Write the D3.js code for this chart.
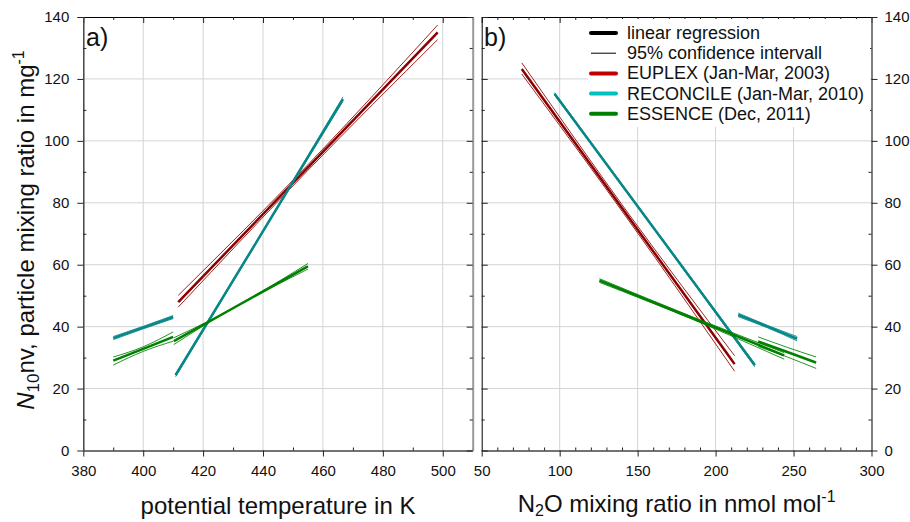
<!DOCTYPE html>
<html>
<head>
<meta charset="utf-8">
<script src="https://cdn.jsdelivr.net/npm/d3@7"></script>
<style>
  body { margin: 0; background: #fff; }
  svg { display: block; font-family: "Liberation Sans", Arial, sans-serif; }
</style>
</head>
<body>
<svg id="chart" width="910" height="522"></svg>
<script>
// ---------- data ----------
const seriesNames = ["EUPLEX (Jan-Mar, 2003)", "RECONCILE (Jan-Mar, 2010)", "ESSENCE (Dec, 2011)"];
const legendKeys = ["linear regression", "95% confidence intervall"];

const thetaTicks = [380, 400, 420, 440, 460, 480, 500];
const thetaMinor = [390, 410, 430, 450, 470, 490, 510];
const n2oTicks = [50, 100, 150, 200, 250, 300];
const n2oMinor = [60, 70, 80, 90, 110, 120, 130, 140, 160, 170, 180, 190, 210, 220, 230, 240, 260, 270, 280, 290];
const ratioTicks = [0, 20, 40, 60, 80, 100, 120, 140];
const ratioMinor = [10, 30, 50, 70, 90, 110, 130];

// regression fits (fit) with 95% confidence bounds (hi, lo), panel a: vs potential temperature (K)
const aEuplex     = { x: [411.7, 455, 498.3], fit: [47.9, 91.4, 135.0], hi: [50.1, 92.3, 137.4], lo: [46.3, 90.5, 132.7] };
const aReconcile1 = { x: [390, 400, 410],     fit: [36.3, 39.7, 43.1],  hi: [36.8, 40.1, 43.6],  lo: [35.8, 39.3, 42.6] };
const aReconcile2 = { x: [410.8, 438.8, 466.7], fit: [24.3, 68.9, 113.5], hi: [24.8, 69.2, 114.2], lo: [23.8, 68.6, 112.8] };
const aEssence1   = { x: [390, 400, 410],     fit: [29.0, 32.8, 36.7],  hi: [30.2, 33.5, 38.3],  lo: [27.6, 32.0, 35.3] };
const aEssence2   = { x: [410.2, 421, 455],   fit: [35.3, 41.1, 59.5],  hi: [36.4, 41.4, 60.4],  lo: [34.2, 40.8, 58.6] };

// panel b: vs N2O mixing ratio (nmol/mol)
const bEuplex     = { x: [75.7, 144, 212.2],  fit: [123.2, 75.5, 27.9], hi: [125.2, 76.6, 30.6], lo: [121.6, 74.5, 25.6] };
const bReconcile1 = { x: [96.7, 161, 225.2],  fit: [115.2, 71.4, 27.5], hi: [115.6, 71.7, 28.0], lo: [114.8, 71.1, 27.0] };
const bReconcile2 = { x: [214.5, 233.4, 252.3], fit: [43.8, 40.0, 36.1], hi: [44.4, 40.4, 36.8], lo: [43.2, 39.6, 35.4] };
const bEssence1   = { x: [125.5, 185, 244],   fit: [54.9, 42.8, 30.7],  hi: [55.5, 43.2, 31.6],  lo: [54.3, 42.4, 29.5] };
const bEssence2   = { x: [227.3, 246, 264.5], fit: [35.2, 31.8, 28.4],  hi: [36.7, 33.3, 30.2],  lo: [33.6, 30.2, 26.5] };

const panelASegments = [[0, aEuplex], [1, aReconcile1], [1, aReconcile2], [2, aEssence1], [2, aEssence2]];
const panelBSegments = [[0, bEuplex], [1, bReconcile1], [1, bReconcile2], [2, bEssence1], [2, bEssence2]];

// ---------- styling ----------
const lineColors = ["#8b0000", "#078787", "#008000"];
const legendColors = ["#c00000", "#00c0c0", "#008000"];
const gridColor = "#d4d4d4";

const svg = d3.select("#chart");

const y = d3.scaleLinear().domain([0, 140]).range([450.5, 17]);
const xA = d3.scaleLinear().domain([380, 510]).range([83.3, 472.7]);
const xB = d3.scaleLinear().domain([50, 300]).range([481.7, 871.5]);

// ---------- grid ----------
function grid(xs, xVals, yVals) {
  const g = svg.append("g");
  g.selectAll("line.v").data(xVals).join("line")
    .attr("x1", d => xs(d)).attr("x2", d => xs(d))
    .attr("y1", y(0)).attr("y2", y(140))
    .attr("stroke", gridColor).attr("stroke-width", 1);
  g.selectAll("line.h").data(yVals).join("line")
    .attr("x1", xs.range()[0]).attr("x2", xs.range()[1])
    .attr("y1", d => y(d)).attr("y2", d => y(d))
    .attr("stroke", gridColor).attr("stroke-width", 1);
}
grid(xA, thetaTicks.slice(1), ratioTicks.slice(1, -1));
grid(xB, n2oTicks.slice(1, -1), ratioTicks.slice(1, -1));

// ---------- regression lines ----------
const lineGen = xs => d3.line()
  .x(d => xs(d[0])).y(d => y(d[1]))
  .curve(d3.curveMonotoneX);

function drawSegments(xs, segments) {
  const g = svg.append("g");
  segments.forEach(([s, seg]) => {
    const gen = lineGen(xs);
    ["hi", "lo"].forEach(k => {
      g.append("path")
        .attr("d", gen(seg.x.map((v, i) => [v, seg[k][i]])))
        .attr("fill", "none")
        .attr("stroke", lineColors[s])
        .attr("stroke-width", 1)
        .attr("stroke-opacity", 0.85);
    });
    g.append("path")
      .attr("d", gen(seg.x.map((v, i) => [v, seg.fit[i]])))
      .attr("fill", "none")
      .attr("stroke", lineColors[s])
      .attr("stroke-width", 2.5);
  });
}
drawSegments(xA, panelASegments);
drawSegments(xB, panelBSegments);

// ---------- axes ----------
function addAxis(transform, make, scale, majorVals, minorVals, opts) {
  const g = svg.append("g").attr("transform", transform);
  g.call(make(scale).tickValues(majorVals).tickSizeOuter(0)
    .tickSizeInner(opts.out ? 6 : -6).tickPadding(opts.pad || 3)
    .tickFormat(opts.labels ? d3.format("d") : () => ""));
  g.attr("font-family", null).attr("font-size", 15);
  g.select(".domain").attr("stroke", opts.color).attr("stroke-width", opts.width);
  g.selectAll(".tick line").attr("stroke", "#222");
  g.selectAll(".tick text").attr("fill", "#111");
  const gm = svg.append("g").attr("transform", transform);
  gm.call(make(scale).tickValues(minorVals).tickSizeOuter(0).tickSizeInner(-3).tickFormat(() => ""));
  gm.select(".domain").remove();
  gm.selectAll(".tick line").attr("stroke", "#222");
  return g;
}

// panel a
addAxis(`translate(0,${y(0)})`, d3.axisBottom, xA, thetaTicks, thetaMinor, { out: true, labels: true, pad: 9, color: "#444", width: 1.5 });
addAxis(`translate(0,${y(140)})`, d3.axisTop, xA, thetaTicks, thetaMinor, { out: false, color: "#000", width: 1 });
addAxis(`translate(${xA(380)},0)`, d3.axisLeft, y, ratioTicks, ratioMinor, { out: true, labels: true, pad: 8, color: "#444", width: 1.5 });
addAxis(`translate(${xA(510)},0)`, d3.axisRight, y, ratioTicks, ratioMinor, { out: false, color: "#999", width: 2 });

// panel b
addAxis(`translate(0,${y(0)})`, d3.axisBottom, xB, n2oTicks, n2oMinor, { out: true, labels: true, pad: 9, color: "#444", width: 1.5 });
addAxis(`translate(0,${y(140)})`, d3.axisTop, xB, n2oTicks, n2oMinor, { out: false, color: "#000", width: 1 });
addAxis(`translate(${xB(50)},0)`, d3.axisLeft, y, ratioTicks, ratioMinor, { out: false, color: "#000", width: 1 });
addAxis(`translate(${xB(300)},0)`, d3.axisRight, y, ratioTicks, ratioMinor, { out: true, labels: true, pad: 7, color: "#555", width: 1.5 });

// ---------- panel labels ----------
svg.append("text").attr("x", 86).attr("y", 46).attr("font-size", 25).attr("fill", "#111").text("a)");
svg.append("text").attr("x", 484).attr("y", 46).attr("font-size", 25).attr("fill", "#111").text("b)");

// ---------- axis titles ----------
svg.append("text")
  .attr("x", (xA.range()[0] + xA.range()[1]) / 2).attr("y", 514)
  .attr("text-anchor", "middle").attr("font-size", 24).attr("fill", "#111")
  .text("potential temperature in K");

const xtB = svg.append("text")
  .attr("x", (xB.range()[0] + xB.range()[1]) / 2).attr("y", 512)
  .attr("text-anchor", "middle").attr("font-size", 24).attr("fill", "#111");
xtB.append("tspan").text("N");
xtB.append("tspan").attr("font-size", 16).attr("dy", 4).text("2");
xtB.append("tspan").attr("dy", -4).text("O mixing ratio in nmol mol");
xtB.append("tspan").attr("font-size", 16).attr("dy", -10).text("-1");

const yt = svg.append("text")
  .attr("transform", "translate(34,230) rotate(-90)")
  .attr("text-anchor", "middle").attr("font-size", 24).attr("fill", "#111");
yt.append("tspan").attr("font-style", "italic").text("N");
yt.append("tspan").attr("font-size", 17).attr("dy", 5).text("10");
yt.append("tspan").attr("dy", -5).text("nv, particle mixing ratio in mg");
yt.append("tspan").attr("font-size", 16).attr("dy", -10).text("-1");

// ---------- legend ----------
const leg = svg.append("g");
leg.append("rect").attr("x", 588).attr("y", 19).attr("width", 282).attr("height", 108).attr("fill", "#fff");
const legendRows = [
  { label: legendKeys[0], color: "#000", w: 4 },
  { label: legendKeys[1], color: "#000", w: 1 },
  ...seriesNames.map((n, i) => ({ label: n, color: legendColors[i], w: 4 }))
];
const rowY = d3.scaleLinear().domain([0, 1]).range([33, 53.2]);
legendRows.forEach((r, i) => {
  leg.append("line")
    .attr("x1", 591).attr("x2", 616)
    .attr("y1", rowY(i)).attr("y2", rowY(i))
    .attr("stroke", r.color).attr("stroke-width", r.w)
    .attr("stroke-linecap", r.w > 1 ? "round" : "butt");
  leg.append("text")
    .attr("x", 627).attr("y", rowY(i) + 6)
    .attr("font-size", 18).attr("fill", "#111")
    .text(r.label);
});
</script>
</body>
</html>
